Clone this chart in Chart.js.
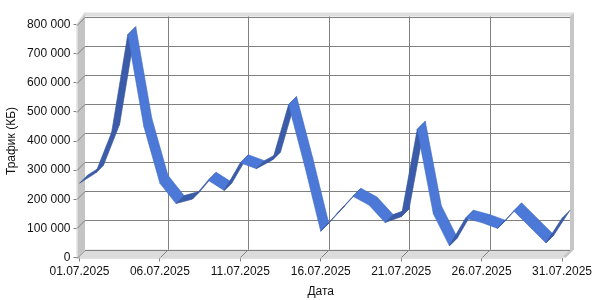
<!DOCTYPE html>
<html lang="ru">
<head>
    <meta charset="UTF-8">
    <script src="https://cdn.jsdelivr.net/npm/chart.js"></script>
    <title>Трафик</title>
    <style>
        body { margin: 0; background: #fff; }
        #trafficChart { display: block; }
    </style>
</head>
<body>
<canvas id="trafficChart" width="600" height="300"></canvas>
<script>
    // dates (categories)
    const dates = [
        '01.07.2025', '02.07.2025', '03.07.2025', '04.07.2025', '05.07.2025',
        '06.07.2025', '07.07.2025', '08.07.2025', '09.07.2025', '10.07.2025',
        '11.07.2025', '12.07.2025', '13.07.2025', '14.07.2025', '15.07.2025',
        '16.07.2025', '17.07.2025', '18.07.2025', '19.07.2025', '20.07.2025',
        '21.07.2025', '22.07.2025', '23.07.2025', '24.07.2025', '25.07.2025',
        '26.07.2025', '27.07.2025', '28.07.2025', '29.07.2025', '30.07.2025',
        '31.07.2025'
    ];
    // traffic per day, KB
    const traffic = [
        255000, 290000, 430000, 765000, 450000,
        255000, 185000, 200000, 265000, 230000,
        325000, 305000, 335000, 525000, 315000,
        90000, 150000, 210000, 180000, 120000,
        140000, 440000, 150000, 40000, 135000,
        120000, 100000, 160000, 105000, 50000,
        135000
    ];
    const yTicks = [0, 100000, 200000, 300000, 400000, 500000, 600000, 700000, 800000];

    const depth = 8; // 3d offset of the back plane
    const gridColor = '#808080';

    function fmt(v) {
        return String(v).replace(/\B(?=(\d{3})+(?!\d))/g, ' ');
    }

    function poly(ctx, pts) {
        ctx.beginPath();
        ctx.moveTo(pts[0][0], pts[0][1]);
        for (let i = 1; i < pts.length; i++) ctx.lineTo(pts[i][0], pts[i][1]);
        ctx.closePath();
    }

    // walls, floor and grid of the 3d box
    const box3d = {
        id: 'box3d',
        beforeDatasetsDraw(chart) {
            const { ctx, chartArea: a, scales: { x, y } } = chart;
            const fl = a.left - 2.5;
            const bl = fl + depth;
            const br = a.right + depth;
            const bt = a.top - depth;
            const bb = a.bottom - depth;
            ctx.save();

            // left wall
            poly(ctx, [[fl, a.bottom], [fl, a.top], [bl, bt - 4], [bl, bb]]);
            ctx.fillStyle = '#c4c4c4';
            ctx.fill();
            ctx.strokeStyle = '#e2e2e2';
            ctx.lineWidth = 1.5;
            ctx.beginPath();
            ctx.moveTo(fl, a.bottom);
            ctx.lineTo(fl, a.top);
            ctx.lineTo(bl, bt - 4);
            ctx.stroke();

            // floor
            poly(ctx, [[fl, a.bottom], [bl, bb], [br, bb], [a.right, a.bottom]]);
            ctx.fillStyle = '#dcdcdc';
            ctx.fill();
            ctx.strokeStyle = '#c8c8c8';
            ctx.lineWidth = 1;
            ctx.beginPath();
            ctx.moveTo(fl, a.bottom + 0.5);
            ctx.lineTo(a.right, a.bottom + 0.5);
            ctx.stroke();

            // top band and right band of back wall
            poly(ctx, [[bl, bt - 4], [br + 4, bt - 4], [br, bt], [bl, bt]]);
            ctx.fillStyle = '#dedede';
            ctx.fill();
            poly(ctx, [[br, bt], [br + 4, bt - 4], [br + 4, bb], [a.right + 4, a.bottom], [a.right, a.bottom], [br, bb]]);
            ctx.fillStyle = '#c6c6c6';
            ctx.fill();

            // horizontal grid
            ctx.strokeStyle = gridColor;
            ctx.lineWidth = 1;
            yTicks.forEach(v => {
                const yf = Math.round(y.getPixelForValue(v)) + 0.5;
                ctx.beginPath();
                ctx.moveTo(fl, yf);
                ctx.lineTo(bl, yf - depth);
                ctx.lineTo(br, yf - depth);
                ctx.stroke();
            });

            // vertical grid every 5 days
            for (let i = 5; i < dates.length - 1; i += 5) {
                const xf = Math.round(x.getPixelForValue(i)) + 0.5;
                ctx.beginPath();
                ctx.moveTo(xf + depth, bt);
                ctx.lineTo(xf + depth, bb);
                ctx.lineTo(xf, a.bottom);
                ctx.stroke();
            }
            ctx.restore();
        },
        afterDatasetsDraw(chart) {
            const { ctx } = chart;
            const pts = chart.getDatasetMeta(0).data;
            ctx.save();
            ctx.lineJoin = 'round';
            ctx.lineWidth = 0.6;
            for (let i = 0; i < pts.length - 1; i++) {
                const p1 = pts[i], p2 = pts[i + 1];
                const rising = traffic[i + 1] > traffic[i];
                poly(ctx, [
                    [p1.x, p1.y], [p2.x, p2.y],
                    [p2.x + depth, p2.y - depth], [p1.x + depth, p1.y - depth]
                ]);
                ctx.fillStyle = rising ? '#3b5ca9' : '#4c79d8';
                ctx.strokeStyle = rising ? '#34539a' : '#3f69c2';
                ctx.fill();
                ctx.stroke();
            }
            ctx.restore();
        }
    };

    const ctx = document.getElementById('trafficChart').getContext('2d');
    Chart.defaults.font.family = '"Liberation Sans", Arial, sans-serif';
    Chart.defaults.font.size = 12;
    Chart.defaults.color = '#111';

    const trafficChart = new Chart(ctx, {
        type: 'line',
        data: {
            labels: dates,
            datasets: [{
                label: 'Трафик',
                data: traffic,
                borderColor: 'transparent',
                borderWidth: 0,
                pointRadius: 0,
                fill: false
            }]
        },
        options: {
            responsive: false,
            animation: false,
            layout: { padding: { top: 24.5, right: 38, left: 0, bottom: 0 } },
            plugins: {
                legend: { display: false },
                tooltip: { enabled: false }
            },
            scales: {
                x: {
                    type: 'category',
                    offset: false,
                    border: { display: false },
                    grid: {
                        drawOnChartArea: false,
                        tickLength: 4,
                        tickColor: c => (c.index % 5 === 0 ? gridColor : 'transparent')
                    },
                    ticks: {
                        autoSkip: false,
                        maxRotation: 0,
                        padding: 3,
                        callback: (v, i) => (i % 5 === 0 ? dates[i] : '')
                    },
                    title: { display: true, text: 'Дата', padding: { top: 2, bottom: 1 } },
                    afterFit: s => { s.height = 42.5; }
                },
                y: {
                    min: 0,
                    max: 800000,
                    border: { display: false },
                    grid: {
                        drawOnChartArea: false,
                        tickLength: 6,
                        tickColor: gridColor
                    },
                    ticks: {
                        stepSize: 100000,
                        padding: 3,
                        callback: v => fmt(v)
                    },
                    title: { display: true, text: 'Трафик (КБ)', padding: 4 },
                    afterFit: s => { s.width = 79.5; }
                }
            }
        },
        plugins: [box3d]
    });
</script>
</body>
</html>
